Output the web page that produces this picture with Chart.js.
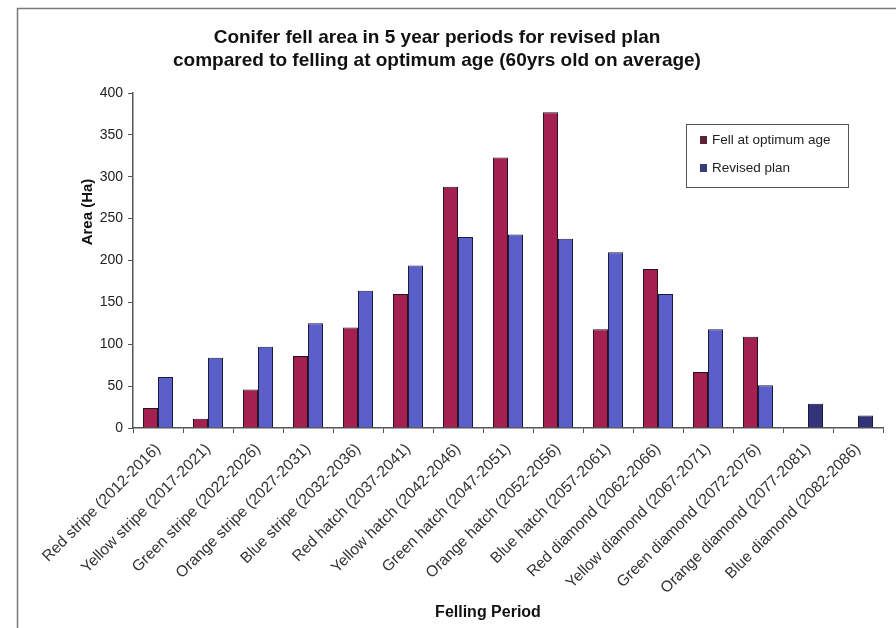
<!DOCTYPE html>
<html>
<head>
<meta charset="utf-8">
<script src="https://cdn.jsdelivr.net/npm/chart.js@4"></script>
<style>
  html, body { margin: 0; padding: 0; background: #fff; }
  #wrap { width: 896px; height: 628px; position: relative; }
</style>
</head>
<body>
<div id="wrap"><canvas id="myChart" width="896" height="628"></canvas></div>
<script>
const periods = [
    'Red stripe (2012-2016)', 'Yellow stripe (2017-2021)', 'Green stripe (2022-2026)',
    'Orange stripe (2027-2031)', 'Blue stripe (2032-2036)', 'Red hatch (2037-2041)',
    'Yellow hatch (2042-2046)', 'Green hatch (2047-2051)', 'Orange hatch (2052-2056)',
    'Blue hatch (2057-2061)', 'Red diamond (2062-2066)', 'Yellow diamond (2067-2071)',
    'Green diamond (2072-2076)', 'Orange diamond (2077-2081)', 'Blue diamond (2082-2086)'
];
const fellOptimum = [24, 11, 46, 86, 120, 160, 288, 323, 377, 118, 190, 67, 109, 0, 0];
const revisedPlan = [61, 84, 97, 125, 164, 194, 228, 231, 226, 210, 160, 118, 51, 29, 15];
const yTicks = [0, 50, 100, 150, 200, 250, 300, 350, 400];

const titleLines = ['Conifer fell area in 5 year periods for revised plan',
                    'compared to felling at optimum age (60yrs old on average)'];

const redCol = '#a3204f';
const blueCol = '#5b5fc9';
// the last two revised bars are drawn darker in the original
const blueCols = revisedPlan.map((v, i) => i >= 13 ? '#33337a' : blueCol);

// frame, titles and boxed legend
const decor = {
    id: 'decor',
    beforeDraw(chart) {
        const c = chart.ctx;
        c.save();
        c.strokeStyle = '#7a7a7a';
        c.lineWidth = 1.5;
        c.beginPath();
        c.moveTo(17.5, 640);
        c.lineTo(17.5, 8.5);
        c.lineTo(900, 8.5);
        c.stroke();
        c.restore();
    },
    afterDraw(chart) {
        const c = chart.ctx;
        c.save();
        c.fillStyle = '#111';
        c.textAlign = 'center';
        c.textBaseline = 'middle';
        c.font = 'bold 19px Arial, "Liberation Sans", sans-serif';
        c.fillText(titleLines[0], 437, 38);
        c.fillText(titleLines[1], 437, 61);

        c.font = 'bold 16px Arial, "Liberation Sans", sans-serif';
        c.fillText('Felling Period', 488, 613);

        c.save();
        c.translate(88, 212);
        c.rotate(-Math.PI / 2);
        c.font = 'bold 15px Arial, "Liberation Sans", sans-serif';
        c.fillText('Area (Ha)', 0, 0);
        c.restore();

        // legend box
        c.strokeStyle = '#555';
        c.lineWidth = 1;
        c.fillStyle = '#fff';
        c.fillRect(686, 124, 162, 63);
        c.strokeRect(686.5, 124.5, 162, 63);
        const items = [
            { text: chart.data.datasets[0].label, col: '#5e2238', y: 140 },
            { text: chart.data.datasets[1].label, col: '#3b3b78', y: 168 }
        ];
        c.font = '13.5px Arial, "Liberation Sans", sans-serif';
        c.textAlign = 'left';
        items.forEach(it => {
            c.fillStyle = it.col;
            c.fillRect(700, it.y - 4, 7, 8);
            c.fillStyle = '#222';
            c.fillText(it.text, 712, it.y);
        });
        c.restore();
    }
};

const ctx = document.getElementById('myChart').getContext('2d');
const chart = new Chart(ctx, {
    type: 'bar',
    data: {
        labels: periods,
        datasets: [{
            label: 'Fell at optimum age',
            data: fellOptimum,
            backgroundColor: redCol,
            borderColor: '#2a1020',
            borderWidth: 1,
            borderSkipped: 'bottom'
        }, {
            label: 'Revised plan',
            data: revisedPlan,
            backgroundColor: blueCols,
            borderColor: '#1c1c3a',
            borderWidth: 1,
            borderSkipped: 'bottom'
        }]
    },
    options: {
        responsive: false,
        animation: false,
        devicePixelRatio: 1,
        layout: { padding: { left: 0, right: 13, top: 93, bottom: 0 } },
        datasets: { bar: { categoryPercentage: 0.6, barPercentage: 1.0 } },
        plugins: {
            legend: { display: false },
            title: { display: false },
            tooltip: { enabled: false }
        },
        scales: {
            x: {
                afterFit(scale) { scale.height = 200; },
                grid: { display: true, drawOnChartArea: false, offset: true, color: '#555', tickLength: 5 },
                border: { color: '#555', width: 1.5 },
                ticks: {
                    autoSkip: false,
                    maxRotation: 45,
                    minRotation: 45,
                    color: '#333',
                    padding: 7,
                    font: { family: 'Arial, "Liberation Sans", sans-serif', size: 15.5 }
                }
            },
            y: {
                min: 0,
                max: 400,
                afterFit(scale) { scale.width = 133; },
                afterBuildTicks(scale) { scale.ticks = yTicks.map(v => ({ value: v })); },
                grid: { display: true, drawOnChartArea: false, color: '#555', tickLength: 5 },
                border: { color: '#555', width: 1.5 },
                ticks: {
                    color: '#222',
                    padding: 5,
                    font: { family: 'Arial, "Liberation Sans", sans-serif', size: 14 }
                }
            }
        }
    },
    plugins: [decor]
});
</script>
</body>
</html>
